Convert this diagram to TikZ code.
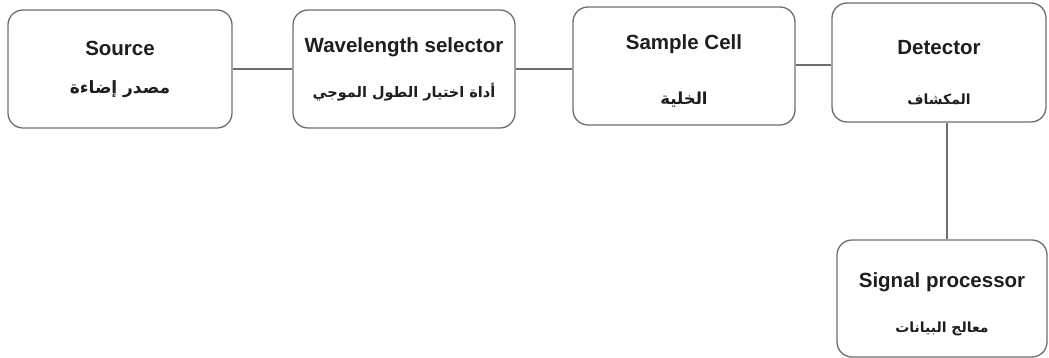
\documentclass[tikz,border=0pt]{standalone}
\usepackage{fontspec}
\setmainfont{Liberation Sans}
\newfontfamily\arabicfont[Script=Arabic]{DejaVu Sans}
\TeXXeTstate=1
\usepackage{tikz}
\usetikzlibrary{positioning, calc}
\definecolor{cline}{HTML}{6E6E6E}
\definecolor{ctext}{HTML}{1E1E1E}

\tikzset{
  unitbox/.style={draw=cline, line width=1.3pt, rounded corners=15pt, fill=white},
  entitle/.style={font=\fontsize{20.5}{24}\selectfont\bfseries, text=ctext, inner sep=0pt},
  artitle/.style={font=\fontsize{#1}{20}\selectfont\arabicfont\bfseries, text=ctext, inner sep=0pt},
  artitle/.default=16.5,
  link/.style={draw=cline, line width=1.1pt},
}
\newcommand{\artxt}[1]{\beginR #1\endR}

\begin{document}
\begin{tikzpicture}[x=1pt, y=-1pt]
  \useasboundingbox (0,0) rectangle (1049,358);

  % Boxes
  \node[unitbox, minimum width=224pt, minimum height=118pt] (src) at (120,69) {};
  \node[unitbox, minimum width=222pt, minimum height=118pt] (wsel) at (404,69) {};
  \node[unitbox, minimum width=222pt, minimum height=118pt] (cell) at (684,66) {};
  \node[unitbox, minimum width=214pt, minimum height=119pt] (det) at (939,62.5) {};
  \node[unitbox, minimum width=210pt, minimum height=117pt] (proc) at (942,298.5) {};

  % Labels
  \node[entitle] (srcen) at ([yshift=-39pt]src.north) {Source};
  \node[artitle=17] (srcar) at ([yshift=-80pt]src.north) {\artxt{مصدر إضاءة}};
  \node[entitle] (wselen) at ([yshift=-38pt]wsel.north) {Wavelength selector};
  \node[artitle=14.5] (wselar) at ([yshift=-83pt]wsel.north) {\artxt{أداة اختيار الطول الموجي}};
  \node[entitle] (cellen) at ([yshift=-38pt]cell.north) {Sample Cell};
  \node[artitle] (cellar) at ([yshift=-93pt]cell.north) {\artxt{الخلية}};
  \node[entitle] (deten) at ([yshift=-45pt]det.north) {Detector};
  \node[artitle=14] (detar) at ([yshift=-97pt]det.north) {\artxt{المكشاف}};
  \node[entitle] (procen) at ([yshift=-43pt]proc.north) {Signal processor};
  \node[artitle=14] (procar) at ([yshift=-90pt]proc.north) {\artxt{معالج البيانات}};

  % Connectors
  \draw[link] (src.east) -- (wsel.west);
  \draw[link] (wsel.east) -- (wsel.east -| cell.west);
  \draw[link] ([yshift=1pt]cell.east) -- ([yshift=1pt]cell.east -| det.west);
  \draw[link] ([xshift=8pt]det.south) -- ([xshift=8pt]det.south |- proc.north);
\end{tikzpicture}
\end{document}
